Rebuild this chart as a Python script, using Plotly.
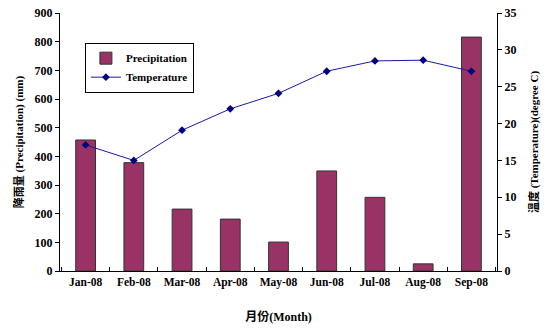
import plotly.graph_objects as go

months = ["Jan-08", "Feb-08", "Mar-08", "Apr-08", "May-08", "Jun-08", "Jul-08", "Aug-08", "Sep-08"]
precipitation = [457, 378, 216, 181, 101, 349, 257, 25, 816]
temperature = [17.1, 15.0, 19.1, 22.0, 24.1, 27.1, 28.5, 28.6, 27.1]

serif = "Liberation Serif, 'Noto Sans CJK TC', serif"

fig = go.Figure()
fig.add_trace(go.Bar(
    x=months, y=precipitation, name="<b>Precipitation</b>",
    marker=dict(color="#993366", line=dict(color="#333333", width=1)),
    width=0.41,
))
fig.add_trace(go.Scatter(
    x=months, y=temperature, name="<b>Temperature</b>", yaxis="y2",
    mode="lines+markers",
    line=dict(color="#1a1aa6", width=1),
    marker=dict(symbol="diamond", size=6, color="#000080"),
))

fig.update_layout(
    width=544, height=329,
    margin=dict(l=60, r=47, t=13, b=58, autoexpand=False),
    paper_bgcolor="white", plot_bgcolor="white",
    font=dict(family=serif, size=12, color="black"),
    showlegend=True,
    legend=dict(
        x=0.057, y=0.885, xanchor="left", yanchor="top",
        bgcolor="white", bordercolor="black", borderwidth=1,
        font=dict(family=serif, size=11, color="black"),
        tracegroupgap=0, itemwidth=30,
    ),
    xaxis=dict(
        type="category", tickson="boundaries", ticks="inside", ticklen=4,
        tickcolor="black", showline=True, linecolor="black", linewidth=1,
        showgrid=False, tickangle=0, automargin=False,
        tickfont=dict(family=serif, size=11.5, weight="bold"),
        title=dict(text="<b>月份(Month)</b>", font=dict(family=serif, size=12), standoff=24),
    ),
    yaxis=dict(
        range=[0, 900], dtick=100, ticks="outside", ticklen=4, tickcolor="black",
        showline=True, linecolor="black", linewidth=1, showgrid=False, zeroline=False,
        automargin=False,
        tickfont=dict(family=serif, size=12, weight="bold"),
        title=dict(text="<b>降雨量 (Precipitation) (mm)</b>", font=dict(family=serif, size=11), standoff=8),
    ),
    yaxis2=dict(
        overlaying="y", side="right", range=[0, 35], dtick=5,
        ticks="outside", ticklen=4, tickcolor="black",
        showline=True, linecolor="black", linewidth=1, showgrid=False, zeroline=False,
        automargin=False,
        tickfont=dict(family=serif, size=12, weight="bold"),
        title=dict(text="<b>溫度 (Temperature)(degree C)</b>", font=dict(family=serif, size=11), standoff=14),
    ),
)

fig.write_html("out.html")
